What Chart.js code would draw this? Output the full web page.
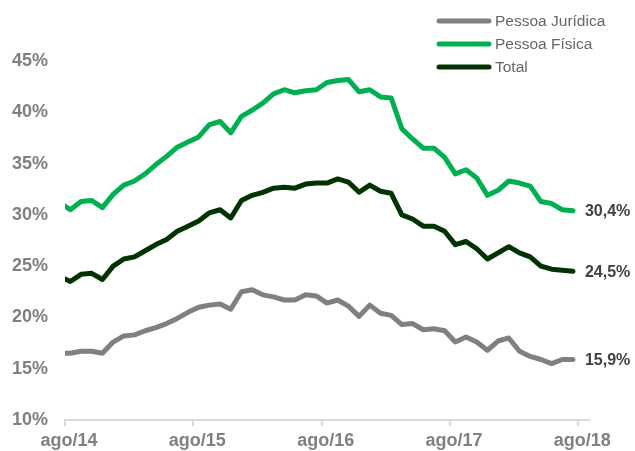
<!DOCTYPE html>
<html>
<head>
<meta charset="utf-8">
<script src="https://cdn.jsdelivr.net/npm/chart.js@4/dist/chart.umd.min.js"></script>
<style>
  body { margin: 0; background: #fff; }
  #wrap { width: 635px; height: 451px; }
</style>
</head>
<body>
<div id="wrap"><canvas id="chart" width="635" height="451"></canvas></div>
<script>
// monthly series, index 0 = jul/14 ... 48 = jul/18
const pessoaJuridica = [16.5, 16.5, 16.7, 16.7, 16.5, 17.6, 18.2, 18.3, 18.7, 19.0, 19.4, 19.9,
  20.5, 21.0, 21.2, 21.3, 20.8, 22.5, 22.7, 22.2, 22.0, 21.7, 21.7, 22.2,
  22.1, 21.4, 21.7, 21.1, 20.1, 21.2, 20.4, 20.2, 19.3, 19.4, 18.8, 18.9,
  18.7, 17.6, 18.1, 17.6, 16.8, 17.7, 18.0, 16.7, 16.2, 15.9, 15.5, 15.9, 15.9];
const pessoaFisica = [31.2, 30.5, 31.3, 31.4, 30.7, 32.0, 32.9, 33.3, 34.0, 34.9, 35.7, 36.6,
  37.1, 37.6, 38.8, 39.1, 38.0, 39.6, 40.2, 40.9, 41.8, 42.2, 41.9, 42.1,
  42.2, 42.9, 43.1, 43.2, 42.0, 42.2, 41.5, 41.4, 38.4, 37.4, 36.5, 36.5,
  35.6, 34.0, 34.4, 33.6, 31.9, 32.4, 33.3, 33.1, 32.8, 31.3, 31.1, 30.5, 30.4];
const total = [24.0, 23.5, 24.2, 24.3, 23.7, 25.0, 25.7, 25.9, 26.5, 27.1, 27.6, 28.4,
  28.9, 29.4, 30.2, 30.5, 29.7, 31.4, 31.9, 32.2, 32.6, 32.7, 32.6, 33.0,
  33.1, 33.1, 33.5, 33.2, 32.2, 32.9, 32.3, 32.1, 30.0, 29.6, 28.9, 28.9,
  28.4, 27.1, 27.4, 26.7, 25.7, 26.3, 26.9, 26.3, 25.9, 25.0, 24.7, 24.6, 24.5];

const seriesNames = ['Pessoa Jurídica', 'Pessoa Física', 'Total'];
const seriesColors = ['#808080', '#00b050', '#003300'];

const xTickPos = [0.5, 12.5, 24.5, 36.5, 48.5];
const xTickLabels = ['ago/14', 'ago/15', 'ago/16', 'ago/17', 'ago/18'];

const FONT = '"Liberation Sans", Arial, sans-serif';

const toPoints = arr => arr.map((v, i) => ({ x: i, y: v }));

// legend top right + value label at the end of each line
const extrasPlugin = {
  id: 'extras',
  afterDatasetsDraw(chart) {
    const ctx = chart.ctx;
    ctx.save();
    chart.data.datasets.forEach((ds, i) => {
      const y = 21 + i * 23;
      ctx.strokeStyle = ds.borderColor;
      ctx.lineWidth = 5;
      ctx.lineCap = 'round';
      ctx.beginPath();
      ctx.moveTo(439, y);
      ctx.lineTo(489, y);
      ctx.stroke();
      ctx.fillStyle = '#666666';
      ctx.font = '15.5px ' + FONT;
      ctx.textAlign = 'left';
      ctx.textBaseline = 'middle';
      ctx.fillText(ds.label, 495, y + 1);

      const meta = chart.getDatasetMeta(i);
      const last = meta.data[meta.data.length - 1];
      const val = ds.data[ds.data.length - 1].y;
      ctx.fillStyle = '#404040';
      ctx.font = 'bold 16px ' + FONT;
      ctx.fillText(val.toFixed(1).replace('.', ',') + '%', last.x + 12, last.y + 1);
    });
    ctx.restore();
  }
};

new Chart(document.getElementById('chart'), {
  type: 'line',
  data: {
    datasets: [pessoaJuridica, pessoaFisica, total].map((arr, i) => ({
      label: seriesNames[i],
      data: toPoints(arr),
      borderColor: seriesColors[i],
      borderWidth: 5,
      borderJoinStyle: 'round',
      borderCapStyle: 'round',
      pointRadius: 0,
      tension: 0,
      clip: { left: 0, top: false, right: false, bottom: false }
    }))
  },
  options: {
    responsive: false,
    devicePixelRatio: 1,
    animation: false,
    layout: { padding: { top: 61, right: 46, bottom: 0, left: 0 } },
    plugins: {
      legend: { display: false },
      tooltip: { enabled: false }
    },
    scales: {
      x: {
        type: 'linear',
        min: 0.5,
        max: 49.5,
        afterBuildTicks: scale => { scale.ticks = xTickPos.map(v => ({ value: v })); },
        afterFit: scale => { scale.height = 31; },
        grid: {
          drawOnChartArea: false,
          drawTicks: true,
          tickLength: 6,
          color: '#d9d9d9',
          lineWidth: 2
        },
        border: { display: true, color: '#d9d9d9', width: 2 },
        ticks: {
          callback: (v, i) => xTickLabels[i],
          labelOffset: 4,
          padding: 4,
          maxRotation: 0,
          color: '#808080',
          font: { family: FONT, size: 18, weight: 'bold' }
        }
      },
      y: {
        min: 10,
        max: 45,
        afterFit: scale => { scale.width = 65; },
        grid: { display: false, drawTicks: false },
        border: { display: false },
        ticks: {
          stepSize: 5,
          padding: 17,
          color: '#808080',
          callback: v => v + '%',
          font: { family: FONT, size: 18, weight: 'bold' }
        }
      }
    }
  },
  plugins: [extrasPlugin]
});
</script>
</body>
</html>
